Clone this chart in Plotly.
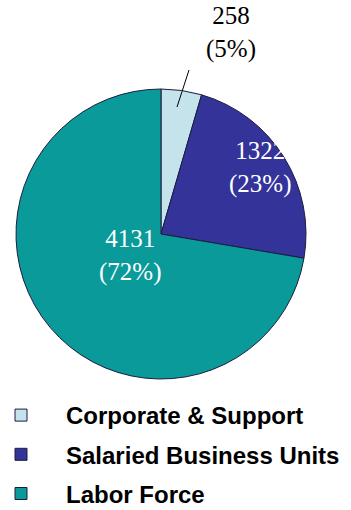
import plotly.graph_objects as go

# Headcount by group
categories = ["Corporate & Support", "Salaried Business Units", "Labor Force"]
headcount = [258, 1322, 4131]
colors = ["#c4e3ea", "#333399", "#0a9a9a"]

W, H = 351, 510
total = sum(headcount)
pct = [round(v / total * 100) for v in headcount]
labels = [f"{v}<br>({p}%)" for v, p in zip(headcount, pct)]

fig = go.Figure()

# Pie centred at (161, 234) px with radius 145 px
cx, cy, r = 161, 234, 145
fig.add_trace(go.Pie(
    labels=categories,
    values=headcount,
    sort=False,
    direction="clockwise",
    rotation=0,
    marker=dict(colors=colors, line=dict(color="#1c1c40", width=1)),
    textinfo="none",
    hoverinfo="label+value+percent",
    showlegend=False,
    domain=dict(x=[(cx - r) / W, (cx + r) / W],
                y=[(H - cy - r) / H, (H - cy + r) / H]),
))

# Legend entries as square markers, one group each for spacing
for i, (name, col) in enumerate(zip(categories, colors)):
    fig.add_trace(go.Scatter(
        x=[None], y=[None], mode="markers", name=name,
        legendgroup=f"g{i}",
        marker=dict(symbol="square", size=12, color=col,
                    line=dict(color="#1c1c40", width=1)),
    ))

# Slice value labels: (x px, y px, text colour)
label_pos = [(231, 33, "black"), (260, 168, "white"), (130, 255, "white")]
for (x, y, c), t in zip(label_pos, labels):
    fig.add_annotation(
        x=x / W, y=1 - y / H, xref="paper", yref="paper",
        text=t, showarrow=False, xanchor="center", yanchor="middle",
        font=dict(family="Liberation Serif", size=25, color=c),
    )

# Leader line for the small slice
fig.add_shape(type="line", xref="paper", yref="paper",
              x0=189 / W, y0=1 - 70 / H, x1=177 / W, y1=1 - 107 / H,
              line=dict(color="black", width=1))

fig.update_layout(
    width=W, height=H,
    margin=dict(l=0, r=0, t=0, b=0, autoexpand=False),
    paper_bgcolor="white", plot_bgcolor="white",
    xaxis=dict(visible=False), yaxis=dict(visible=False),
    showlegend=True,
    legend=dict(
        x=-24 / W, y=1 - 393 / H, xanchor="left", yanchor="top",
        orientation="v", tracegroupgap=5, itemwidth=80,
        font=dict(family="Liberation Sans", size=24, color="black", weight=700),
        bgcolor="rgba(0,0,0,0)",
    ),
)

fig.write_html("out.html")
